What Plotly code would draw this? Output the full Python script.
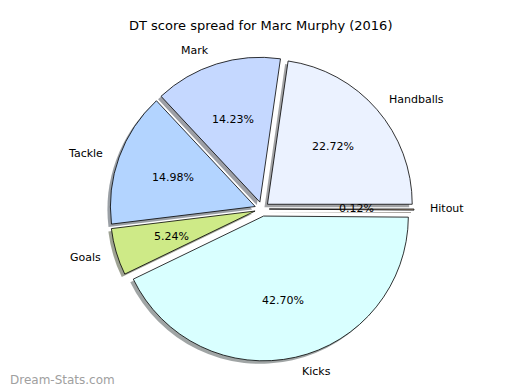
import math
import plotly.graph_objects as go

title = "DT score spread for Marc Murphy (2016)"
labels = ["Hitout", "Handballs", "Mark", "Tackle", "Goals", "Kicks"]
values = [0.12, 22.72, 14.23, 14.98, 5.24, 42.70]
colors = ["#FFE0C0", "#EBF2FF", "#C5D8FF", "#B3D4FF", "#CEEA87", "#D9FFFF"]
pull = 0.05

# the page body has an 8px margin; size the figure so it fits the 520x390 window
OFF = 8
W, H = 520 - OFF, 390 - OFF
cx, cy = 262 - OFF, 209 - OFF   # pie centre in figure px (from top)
half = 152                      # half size of pie domain in px

def hex_rgb(h):
    h = h.lstrip("#")
    return [int(h[i:i + 2], 16) for i in (0, 2, 4)]

shadow_colors = []
for c in colors:
    r, g, b = hex_rgb(c)
    shadow_colors.append(f"rgba({int(r*0.3)},{int(g*0.3)},{int(b*0.3)},0.5)")

dom_x = [(cx - half) / W, (cx + half) / W]
dom_y = [(H - cy - half) / H, (H - cy + half) / H]
sx, sy = 3 / W, 3 / H

fig = go.Figure()
fig.add_trace(go.Pie(
    labels=labels, values=values, sort=False, direction="counterclockwise",
    rotation=90, pull=pull, textinfo="none", hoverinfo="skip",
    marker=dict(colors=shadow_colors, line=dict(color="rgba(0,0,0,0)", width=0)),
    domain=dict(x=[dom_x[0] - sx, dom_x[1] - sx], y=[dom_y[0] - sy, dom_y[1] - sy]),
    showlegend=False,
))
fig.add_trace(go.Pie(
    labels=labels, values=values, sort=False, direction="counterclockwise",
    rotation=90, pull=pull, textinfo="none",
    marker=dict(colors=colors, line=dict(color="black", width=0.8)),
    domain=dict(x=dom_x, y=dom_y),
    showlegend=False,
))

# text positions, derived from the data (matplotlib-style: labels at 1.1 r, pct at 0.6 r)
rad = half / (1 + pull)
total = sum(values)
cum = 0.0
annotations = []
for lab, v in zip(labels, values):
    mid = 2 * math.pi * (cum + v / 2) / total
    cum += v
    ca, sa = math.cos(mid), math.sin(mid)
    ox, oy = pull * rad * ca, pull * rad * sa
    lx = cx + ox + 1.1 * rad * ca
    ly = (H - cy) + oy + 1.1 * rad * sa
    annotations.append(dict(
        x=lx / W, y=ly / H, xref="paper", yref="paper", text=lab, showarrow=False,
        xanchor="left" if ca > 0 else "right", yanchor="middle",
        font=dict(family="DejaVu Sans", size=11, color="black")))
    px = cx + ox + 0.6 * rad * ca
    py = (H - cy) + oy + 0.6 * rad * sa
    annotations.append(dict(
        x=px / W, y=py / H, xref="paper", yref="paper", text=f"{v / total * 100:.2f}%",
        showarrow=False, xanchor="center", yanchor="middle",
        font=dict(family="DejaVu Sans", size=11, color="black")))

annotations.append(dict(
    x=0, y=(390 - 380) / H, xref="paper", yref="paper", text="Dream-Stats.com",
    showarrow=False, xanchor="left", yanchor="middle",
    font=dict(family="DejaVu Sans", size=12, color="#A0A0A0")))
annotations.append(dict(
    x=(260 - OFF) / W, y=1 - (25 - OFF) / H, xref="paper", yref="paper", text=title,
    showarrow=False, xanchor="center", yanchor="middle",
    font=dict(family="DejaVu Sans", size=13, color="black")))

fig.update_layout(
    width=W, height=H, margin=dict(l=0, r=0, t=0, b=0),
    paper_bgcolor="white", plot_bgcolor="white",
    annotations=annotations,
)
fig.write_html("out.html")
